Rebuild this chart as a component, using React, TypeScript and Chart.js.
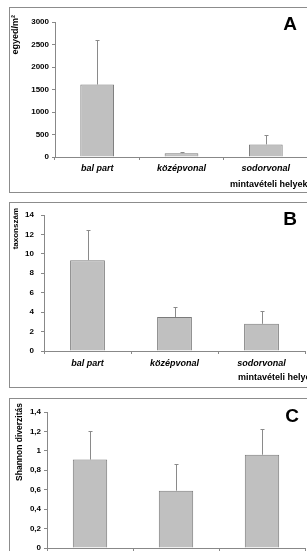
import { useEffect, useRef } from 'react';
import { Chart, registerables } from 'chart.js';

Chart.register(...registerables);

const FONT = '"Liberation Sans", Arial, sans-serif';

const categories = ['bal part', 'középvonal', 'sodorvonal'];
const xAxisCaption = 'mintavételi helyek';

const densityMeans = [1610, 85, 280];
const densityErrors = [990, 35, 205];

const taxaMeans = [9.35, 3.5, 2.8];
const taxaErrors = [3.15, 1.05, 1.3];

const shannonMeans = [0.91, 0.59, 0.96];
const shannonErrors = [0.29, 0.27, 0.26];

type PanelCfg = {
  means: number[];
  errors: number[];
  max: number;
  step: number;
  yTitle: string;
  yTitleSize: number;
  yTitleX: number;
  yTitleTop: number;
  letter: string;
  letterX: number;
  letterY: number;
  captionX: number;
  captionY: number;
  left: number;
  top: number;
  right: number;
  bottom: number;
  yPad: number;
  xPad: number;
  comma: boolean;
};

const W = 300;
const H = 184;

function makeChart(canvas: HTMLCanvasElement, cfg: PanelCfg) {
  const errorBars = {
    id: 'errorBars',
    afterDatasetsDraw(chart: any) {
      const ctx = chart.ctx;
      const meta = chart.getDatasetMeta(0);
      const ys = chart.scales.y;
      ctx.save();
      ctx.strokeStyle = '#8a8a8a';
      ctx.lineWidth = 1;
      meta.data.forEach((bar: any, i: number) => {
        const x = Math.round(bar.x) + 0.5;
        const yBase = ys.getPixelForValue(cfg.means[i]);
        const yTop = Math.round(ys.getPixelForValue(cfg.means[i] + cfg.errors[i])) + 0.5;
        ctx.beginPath();
        ctx.moveTo(x, yBase);
        ctx.lineTo(x, yTop);
        ctx.moveTo(x - 2, yTop);
        ctx.lineTo(x + 2, yTop);
        ctx.stroke();
      });
      ctx.restore();
    },
  };

  const decor = {
    id: 'decor',
    afterDraw(chart: any) {
      const ctx = chart.ctx;
      ctx.save();
      ctx.fillStyle = '#000';
      // panel letter
      ctx.font = `bold 19px ${FONT}`;
      ctx.textAlign = 'center';
      ctx.textBaseline = 'middle';
      ctx.fillText(cfg.letter, cfg.letterX, cfg.letterY);
      // x axis caption
      ctx.font = `bold 9px ${FONT}`;
      ctx.textAlign = 'left';
      ctx.fillText(xAxisCaption, cfg.captionX, cfg.captionY);
      // y axis title (rotated)
      ctx.translate(cfg.yTitleX, cfg.yTitleTop);
      ctx.rotate(-Math.PI / 2);
      ctx.font = `bold ${cfg.yTitleSize}px ${FONT}`;
      ctx.textAlign = 'right';
      ctx.textBaseline = 'middle';
      ctx.fillText(cfg.yTitle, 0, 0);
      ctx.restore();
    },
  };

  return new Chart(canvas, {
    type: 'bar',
    data: {
      labels: categories,
      datasets: [
        {
          data: cfg.means,
          backgroundColor: '#c0c0c0',
          borderColor: '#7a7a7a',
          borderWidth: 1,
          barPercentage: 0.4,
          categoryPercentage: 1,
        },
      ],
    },
    options: {
      responsive: false,
      animation: false,
      events: [],
      layout: { padding: { top: cfg.top, right: W - cfg.right, left: 0, bottom: 0 } },
      plugins: { legend: { display: false }, tooltip: { enabled: false } },
      scales: {
        x: {
          grid: { display: true, drawOnChartArea: false, drawTicks: true, tickLength: 3, color: '#888', offset: true },
          border: { display: true, color: '#888', width: 1 },
          ticks: {
            color: '#000',
            font: { family: FONT, size: 9, weight: 'bold', style: 'italic' },
            padding: cfg.xPad,
            maxRotation: 0,
            autoSkip: false,
          },
          afterFit: (s: any) => {
            s.height = H - cfg.bottom;
          },
        },
        y: {
          min: 0,
          max: cfg.max,
          ticks: {
            stepSize: cfg.step,
            color: '#000',
            font: { family: FONT, size: 8, weight: 'bold' },
            padding: cfg.yPad,
            callback: (v: any) => {
              const n = Math.round(Number(v) * 10) / 10;
              return cfg.comma ? String(n).replace('.', ',') : String(n);
            },
          },
          grid: { drawOnChartArea: false, drawTicks: true, tickLength: 3, color: '#888' },
          border: { display: true, color: '#888', width: 1 },
          afterFit: (s: any) => {
            s.width = cfg.left;
          },
        },
      },
    },
    plugins: [errorBars, decor],
  } as any);
}

function Panel({ cfg, top }: { cfg: PanelCfg; top: number }) {
  const ref = useRef<HTMLCanvasElement>(null);
  useEffect(() => {
    if (!ref.current) return;
    const chart = makeChart(ref.current, cfg);
    return () => chart.destroy();
  }, [cfg]);
  return (
    <div
      style={{
        position: 'absolute',
        left: 9,
        top,
        width: W + 2,
        height: H + 2,
        border: '1px solid #8c8c8c',
        boxSizing: 'border-box',
        background: '#fff',
      }}
    >
      <canvas ref={ref} width={W} height={H} style={{ display: 'block', width: W, height: H }} />
    </div>
  );
}

const panelA: PanelCfg = {
  means: densityMeans,
  errors: densityErrors,
  max: 3000,
  step: 500,
  yTitle: 'egyed/m²',
  yTitleSize: 9,
  yTitleX: 6,
  yTitleTop: 7,
  letter: 'A',
  letterX: 280,
  letterY: 17,
  captionX: 220,
  captionY: 177,
  left: 45,
  top: 14,
  right: 298,
  bottom: 149,
  yPad: 3,
  xPad: 3,
  comma: false,
};

const panelB: PanelCfg = {
  means: taxaMeans,
  errors: taxaErrors,
  max: 14,
  step: 2,
  yTitle: 'taxonszám',
  yTitleSize: 8,
  yTitleX: 6,
  yTitleTop: 5,
  letter: 'B',
  letterX: 280,
  letterY: 17,
  captionX: 228,
  captionY: 175,
  left: 34,
  top: 12,
  right: 295,
  bottom: 148,
  yPad: 7,
  xPad: 4,
  comma: false,
};

const panelC: PanelCfg = {
  means: shannonMeans,
  errors: shannonErrors,
  max: 1.4,
  step: 0.2,
  yTitle: 'Shannon diverzitás',
  yTitleSize: 8.5,
  yTitleX: 10,
  yTitleTop: 4,
  letter: 'C',
  letterX: 282,
  letterY: 18,
  captionX: 228,
  captionY: 175,
  left: 37,
  top: 13,
  right: 295,
  bottom: 149,
  yPad: 3,
  xPad: 4,
  comma: true,
};

export default function App() {
  return (
    <div
      style={{
        position: 'fixed',
        left: 0,
        top: 0,
        width: 307,
        height: 551,
        overflow: 'hidden',
        background: '#fff',
      }}
    >
      <Panel cfg={panelA} top={7} />
      <Panel cfg={panelB} top={202} />
      <Panel cfg={panelC} top={398} />
    </div>
  );
}
